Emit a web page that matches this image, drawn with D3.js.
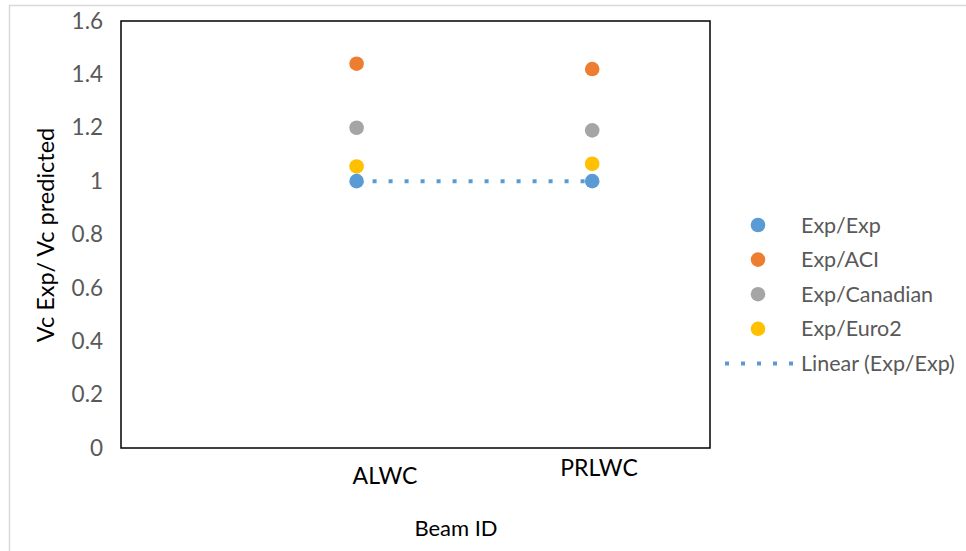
<!DOCTYPE html>
<html>
<head>
<meta charset="utf-8">
<script src="https://cdn.jsdelivr.net/npm/d3@7"></script>
<style>
  html, body { margin: 0; padding: 0; background: #fff; }
  svg { display: block; font-family: Lato, "Open Sans", sans-serif; }
</style>
</head>
<body>
<svg id="chart" width="966" height="551"></svg>
<script>
// Beam specimens and their x positions on the scatter
const beams = ["ALWC", "PRLWC"];
const beamX = [1, 2];

// Shear ratio series (experimental / predicted)
const expExp = [1.0, 1.0];
const expACI = [1.44, 1.42];
const expCanadian = [1.20, 1.19];
const expEuro2 = [1.055, 1.065];

const yTicks = [0, 0.2, 0.4, 0.6, 0.8, 1, 1.2, 1.4, 1.6];

const series = [
  { name: "Exp/Exp", values: expExp, color: "#5b9bd5" },
  { name: "Exp/ACI", values: expACI, color: "#ed7d31" },
  { name: "Exp/Canadian", values: expCanadian, color: "#a5a5a5" },
  { name: "Exp/Euro2", values: expEuro2, color: "#ffc000" }
];

const svg = d3.select("#chart");
const plot = { left: 121, top: 21, right: 710, bottom: 448 };

const x = d3.scaleLinear().domain([0, 2.5]).range([plot.left, plot.right]);
const y = d3.scaleLinear().domain([0, 1.6]).range([plot.bottom, plot.top]);

// Outer chart frame
svg.append("rect")
  .attr("x", 9.5).attr("y", 5.5)
  .attr("width", 980).attr("height", 580)
  .attr("fill", "none").attr("stroke", "#d9d9d9").attr("stroke-width", 1.5);

// Plot area frame
svg.append("rect")
  .attr("x", plot.left).attr("y", plot.top)
  .attr("width", plot.right - plot.left).attr("height", plot.bottom - plot.top)
  .attr("fill", "none").attr("stroke", "#000").attr("stroke-width", 1.5);

// Y axis tick labels
const yAxis = d3.axisLeft(y).tickValues(yTicks).tickSize(0).tickPadding(18)
  .tickFormat(d => d3.format("")(d));
const gy = svg.append("g").attr("transform", `translate(${plot.left},0)`).call(yAxis);
gy.select(".domain").remove();
gy.selectAll("text")
  .attr("fill", "#595959")
  .style("font-size", "22.5px")
  .style("font-family", "Lato, sans-serif");

// Linear trendline through Exp/Exp
const trend = d3.line().x((d, i) => x(beamX[i])).y(d => y(d));
svg.append("path")
  .datum(expExp)
  .attr("d", trend)
  .attr("fill", "none")
  .attr("stroke", "#5b9bd5")
  .attr("stroke-width", 4)
  .attr("stroke-dasharray", "4,12");

// Markers, drawn so Exp/Exp sits on top of the trendline
series.slice().reverse().forEach(s => {
  svg.append("g").selectAll("circle")
    .data(s.values)
    .join("circle")
    .attr("cx", (d, i) => x(beamX[i]))
    .attr("cy", d => y(d))
    .attr("r", 7.3)
    .attr("fill", s.color);
});

// Beam labels under the plot
const labelPos = [{ cx: 385, base: 484 }, { cx: 599, base: 476 }];
svg.append("g").selectAll("text")
  .data(beams)
  .join("text")
  .attr("x", (d, i) => labelPos[i].cx)
  .attr("y", (d, i) => labelPos[i].base)
  .attr("text-anchor", "middle")
  .attr("fill", "#000")
  .style("font-size", "23px")
  .text(d => d);

// Axis titles
svg.append("text")
  .attr("x", 456).attr("y", 536)
  .attr("text-anchor", "middle")
  .attr("fill", "#000")
  .style("font-size", "22px")
  .text("Beam ID");

svg.append("text")
  .attr("transform", "translate(54,235) rotate(-90)")
  .attr("text-anchor", "middle")
  .attr("fill", "#000")
  .style("font-size", "23.5px")
  .text("Vc Exp/ Vc predicted");

// Legend
const legend = svg.append("g");
const legendY = d => 225 + d * 34.6;
series.forEach((s, i) => {
  legend.append("circle")
    .attr("cx", 758).attr("cy", legendY(i)).attr("r", 7.3).attr("fill", s.color);
  legend.append("text")
    .attr("x", 801).attr("y", legendY(i)).attr("dy", "0.35em")
    .attr("fill", "#595959").style("font-size", "21.5px")
    .text(s.name);
});
legend.append("line")
  .attr("x1", 725).attr("x2", 797)
  .attr("y1", legendY(4)).attr("y2", legendY(4))
  .attr("stroke", "#5b9bd5").attr("stroke-width", 4)
  .attr("stroke-dasharray", "4,12");
legend.append("text")
  .attr("x", 801).attr("y", legendY(4)).attr("dy", "0.35em")
  .attr("fill", "#595959").style("font-size", "21.5px")
  .text("Linear (Exp/Exp)");
</script>
</body>
</html>
